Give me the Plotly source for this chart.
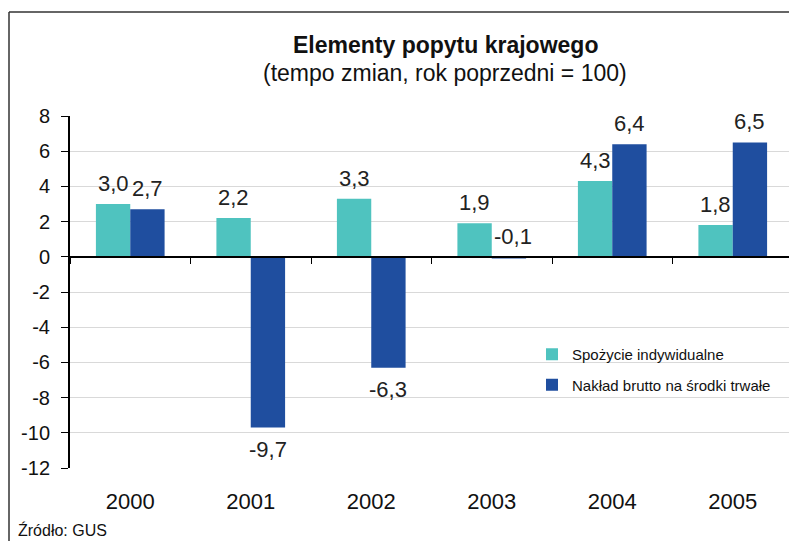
import plotly.graph_objects as go

years = ["2000", "2001", "2002", "2003", "2004", "2005"]
spozycie = [3.0, 2.2, 3.3, 1.9, 4.3, 1.8]
naklad = [2.7, -9.7, -6.3, -0.1, 6.4, 6.5]
series_names = ["Spożycie indywidualne", "Nakład brutto na środki trwałe"]
colors = ["#4FC3BF", "#1F4E9F"]
y_ticks = list(range(-12, 9, 2))

FONT = "Liberation Sans, Arial, sans-serif"

fig = go.Figure()
for name, vals, col, grp in zip(series_names, [spozycie, naklad], colors, ["a", "b"]):
    fig.add_trace(go.Bar(
        x=years, y=vals, name=name, marker=dict(color=col, line=dict(width=0)),
        legendgroup=grp,
    ))

def fmt(v):
    return ("%.1f" % v).replace(".", ",")

annotations = []
for vals, xs in [(spozycie, -17), (naklad, 17)]:
    for i, v in enumerate(vals):
        above = v >= -0.5
        annotations.append(dict(
            x=i, y=max(v, 0) if above else v, xref="x", yref="y",
            text=fmt(v), showarrow=False,
            xshift=xs + (4 if (-0.5 <= v < 0) else 0),
            yshift=6 if above else -7,
            yanchor="bottom" if above else "top",
            font=dict(family=FONT, size=22, color="#222222"),
        ))

# page body adds an 8px margin; size the figure so it fits the 797x541 window
O = 8
W, H = 797 - O, 541 - O
L, R, T, B = 70 - O, 797 - 793, 116 - O, 541 - 468
pw, ph = W - L - R, H - T - B

def px(xref_px):
    return (xref_px - O - L) / pw

def py(yref_px):
    return (H - B - (yref_px - O)) / ph

annotations.append(dict(x=px(445), y=py(45), xref="paper", yref="paper", text="<b>Elementy popytu krajowego</b>",
                        showarrow=False, yanchor="middle", font=dict(family=FONT, size=23, color="#111111")))
annotations.append(dict(x=px(445), y=py(73), xref="paper", yref="paper", text="(tempo zmian, rok poprzedni = 100)",
                        showarrow=False, yanchor="middle", font=dict(family=FONT, size=23, color="#111111")))
annotations.append(dict(x=px(16), y=py(530), xref="paper", yref="paper", text="Źródło: GUS", xanchor="left",
                        yanchor="middle", showarrow=False, font=dict(family=FONT, size=16, color="#111111")))

frame_x = O + 1  # left frame edge, as close to the reference as the page allows
shapes = [
    dict(type="line", xref="paper", yref="paper", x0=px(frame_x), x1=px(frame_x), y0=py(12), y1=py(600),
         line=dict(color="#333333", width=1.5)),
    dict(type="line", xref="paper", yref="paper", x0=px(frame_x), x1=px(850), y0=py(12), y1=py(12),
         line=dict(color="#333333", width=1.5)),
]

fig.update_layout(
    width=W, height=H,
    margin=dict(l=L, r=R, t=T, b=B, autoexpand=False),
    paper_bgcolor="white", plot_bgcolor="white",
    barmode="group", bargap=0.43, bargroupgap=0,
    font=dict(family=FONT, size=18, color="#111111"),
    showlegend=True,
    legend=dict(x=px(532), y=py(338), xanchor="left", yanchor="top",
                font=dict(family=FONT, size=15, color="#111111"),
                traceorder="grouped", tracegroupgap=8, bgcolor="rgba(0,0,0,0)"),
    annotations=annotations, shapes=shapes,
    xaxis=dict(type="category", range=[-0.5, len(years) - 0.5], tickangle=0,
               anchor="free", position=(0 - (-12)) / 20,
               showline=True, linecolor="black", linewidth=2,
               ticks="outside", tickson="boundaries", ticklen=6, tickcolor="black", tickwidth=1,
               ticklabelstandoff=225, showgrid=False, automargin=False,
               tickfont=dict(family=FONT, size=22, color="#111111")),
    yaxis=dict(range=[-12, 8], tickvals=y_ticks, ticktext=[str(t) for t in y_ticks],
               showgrid=True, gridcolor="#D9D9D9", gridwidth=1,
               zeroline=True, zerolinecolor="black", zerolinewidth=2,
               showline=True, linecolor="black", linewidth=2,
               ticks="outside", ticklen=7, tickcolor="black", tickwidth=1, ticklabelstandoff=7,
               automargin=False, tickfont=dict(family=FONT, size=20, color="#111111")),
)

fig.write_html("out.html")
